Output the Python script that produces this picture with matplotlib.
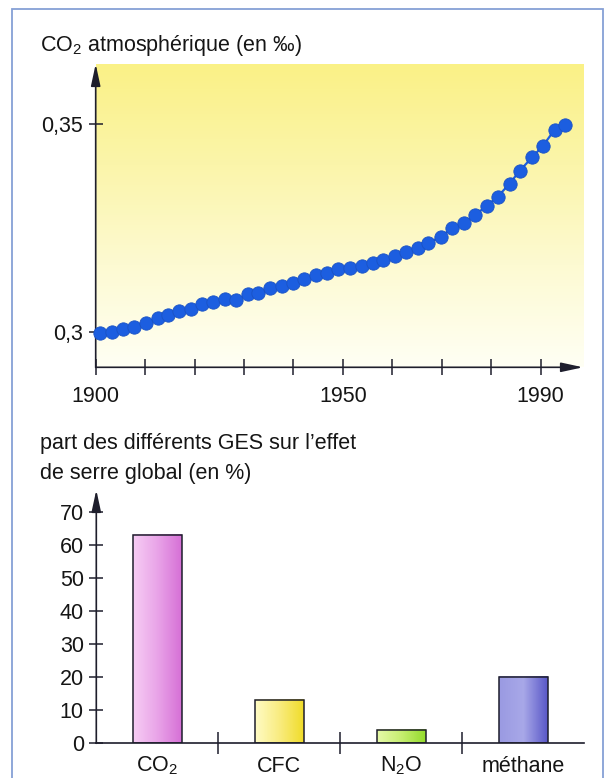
import matplotlib

matplotlib.use("Agg")

import matplotlib.pyplot as plt
import numpy as np
from matplotlib.colors import LinearSegmentedColormap
from matplotlib.patches import Rectangle

plt.rcParams["font.family"] = ["Liberation Sans", "DejaVu Sans"]
plt.rcParams["mathtext.fontset"] = "custom"
plt.rcParams["mathtext.rm"] = "Liberation Sans"
plt.rcParams["mathtext.it"] = "Liberation Sans:italic"

# CO2 concentration in the atmosphere (per mille)
co2_years = [
    1900.9, 1903.2, 1905.6, 1907.8, 1910.1, 1912.5, 1914.7, 1916.9, 1919.3, 1921.6,
    1923.8, 1926.2, 1928.4, 1930.9, 1932.9, 1935.3, 1937.6, 1940.0, 1942.2, 1944.5,
    1946.8, 1949.1, 1951.4, 1953.8, 1956.0, 1958.2, 1960.5, 1962.8, 1965.1, 1967.3,
    1969.8, 1972.1, 1974.4, 1976.7, 1979.1, 1981.3, 1983.7, 1985.8, 1988.3, 1990.5,
    1992.8, 1994.9,
]
co2_values = [
    0.2996, 0.3000, 0.3006, 0.3011, 0.3022, 0.3032, 0.3040, 0.3050, 0.3055, 0.3067,
    0.3072, 0.3078, 0.3076, 0.3090, 0.3094, 0.3104, 0.3110, 0.3118, 0.3128, 0.3136,
    0.3142, 0.3150, 0.3154, 0.3158, 0.3165, 0.3173, 0.3182, 0.3193, 0.3202, 0.3213,
    0.3229, 0.3249, 0.3262, 0.3281, 0.3303, 0.3325, 0.3356, 0.3388, 0.3420, 0.3448,
    0.3486, 0.3498,
]
year_ticks = list(range(1900, 2000, 10))
year_labels = ["1900", "", "", "", "", "1950", "", "", "", "1990"]
co2_ticks = [0.30, 0.35]
co2_tick_labels = ["0,3", "0,35"]

# share of each greenhouse gas in the global greenhouse effect (%)
gas_names = ["CO$_2$", "CFC", "N$_2$O", "méthane"]
gas_shares = [63, 13, 4, 20]
share_ticks = [0, 10, 20, 30, 40, 50, 60, 70]
gas_colors = [
    ["#f6ccf4", "#e9a4e8", "#d670d6"],
    ["#fffbc4", "#f9ec80", "#f0dc2a"],
    ["#e6f9a8", "#c6ee70", "#94dc2c"],
    ["#9a9ae2", "#a8a8e8", "#5a58c8"],
]

INK = "#1e1e2c"
TEXT = "#151515"
DOT_BLUE = "#1c5ee0"
FS = 15.5

W, H = 609, 778
fig = plt.figure(figsize=(W / 100, H / 100), dpi=100)
fig.patch.set_facecolor("white")


def px_box(left, top, right, bottom):
    return [left / W, 1 - bottom / H, (right - left) / W, (bottom - top) / H]


def arrow(ax, start, end):
    ax.annotate(
        "", xy=end, xytext=start, xycoords="axes fraction",
        arrowprops=dict(arrowstyle="-|>,head_length=1.2,head_width=0.26",
                        color=INK, lw=1.2, mutation_scale=11,
                        shrinkA=0, shrinkB=0),
        annotation_clip=False, zorder=3,
    )


# outer frame
fig.add_artist(Rectangle((11.6 / W, -0.05), (603 - 11.6) / W, 1.05 - 9 / H,
                         transform=fig.transFigure, fill=False,
                         edgecolor="#86a0d6", linewidth=1.3))

# --- top panel: CO2 curve ---
ax1 = fig.add_axes(px_box(95.7, 64, 583, 367.3))
xlim1 = (1900, 1998.56)
ylim1 = (0.29143, 0.36444)

yellow = LinearSegmentedColormap.from_list(
    "fade", ["#faf186", "#fbf5aa", "#fdfad2", "#fffff4"])
grad = np.linspace(0, 1, 256).reshape(-1, 1)
ax1.imshow(grad, cmap=yellow, extent=[xlim1[0], xlim1[1], ylim1[0], ylim1[1]],
           aspect="auto", origin="upper", zorder=0)

ax1.plot(co2_years, co2_values, color=DOT_BLUE, lw=1.6, marker="o",
         markersize=9.6, markerfacecolor=DOT_BLUE, markeredgecolor="#1a52c4",
         markeredgewidth=0.6, clip_on=False, zorder=4)

ax1.set_xlim(*xlim1)
ax1.set_ylim(*ylim1)
for side in ax1.spines.values():
    side.set_visible(False)
arrow(ax1, (0, 0), (0, 1.0))
arrow(ax1, (0, 0), (1.0, 0))

ax1.set_xticks(year_ticks, year_labels)
ax1.set_yticks(co2_ticks, co2_tick_labels)
ax1.tick_params(axis="x", direction="inout", length=12, width=1.1, color=INK,
                pad=7.5, labelsize=FS, labelcolor=TEXT)
ax1.tick_params(axis="y", direction="inout", length=10, width=1.1, color=INK,
                pad=4, labelsize=FS, labelcolor=TEXT)

fig.text(40 / W, 1 - 50.7 / H, "CO$_2$ atmosphérique (en ‰)", fontsize=FS,
         ha="left", va="baseline", color=TEXT)

# --- bottom panel: greenhouse gas shares ---
ax2 = fig.add_axes(px_box(96.3, 490, 584.3, 743.3))
xs = np.arange(len(gas_names))
bars = ax2.bar(xs, gas_shares, width=0.40, facecolor="none", edgecolor=INK,
               linewidth=1.1, zorder=3)
for patch, stops in zip(bars.patches, gas_colors):
    cmap = LinearSegmentedColormap.from_list("bar", stops)
    x0 = patch.get_x()
    ax2.imshow(np.linspace(0, 1, 64).reshape(1, -1), cmap=cmap,
               extent=[x0, x0 + patch.get_width(), 0, patch.get_height()],
               aspect="auto", zorder=2)

ax2.set_xlim(-0.5, 3.5)
ax2.set_ylim(0, 76.56)
for name, side in ax2.spines.items():
    side.set_visible(name == "bottom")
ax2.spines["bottom"].set_color(INK)
ax2.spines["bottom"].set_linewidth(1.2)
arrow(ax2, (0, 0), (0, 1.0))

ax2.set_xticks([0.5, 1.5, 2.5], ["", "", ""])
ax2.set_yticks(share_ticks, [str(v) for v in share_ticks])
ax2.tick_params(axis="x", direction="inout", length=16, width=1.1, color=INK)
ax2.tick_params(axis="y", direction="inout", length=10, width=1.1, color=INK,
                pad=4, labelsize=FS, labelcolor=TEXT)

for x, name in zip(xs, gas_names):
    ax2.annotate(name, xy=(x, 0), xytext=(0, -20.4), textcoords="offset points",
                 ha="center", va="baseline", fontsize=FS, color=TEXT,
                 annotation_clip=False)

fig.text(40 / W, 1 - 448.5 / H, "part des différents GES sur l’effet",
         fontsize=FS, ha="left", va="baseline", color=TEXT)
fig.text(40 / W, 1 - 479.5 / H, "de serre global (en %)",
         fontsize=FS, ha="left", va="baseline", color=TEXT)

fig.savefig("out.png", dpi=100, facecolor="white")
